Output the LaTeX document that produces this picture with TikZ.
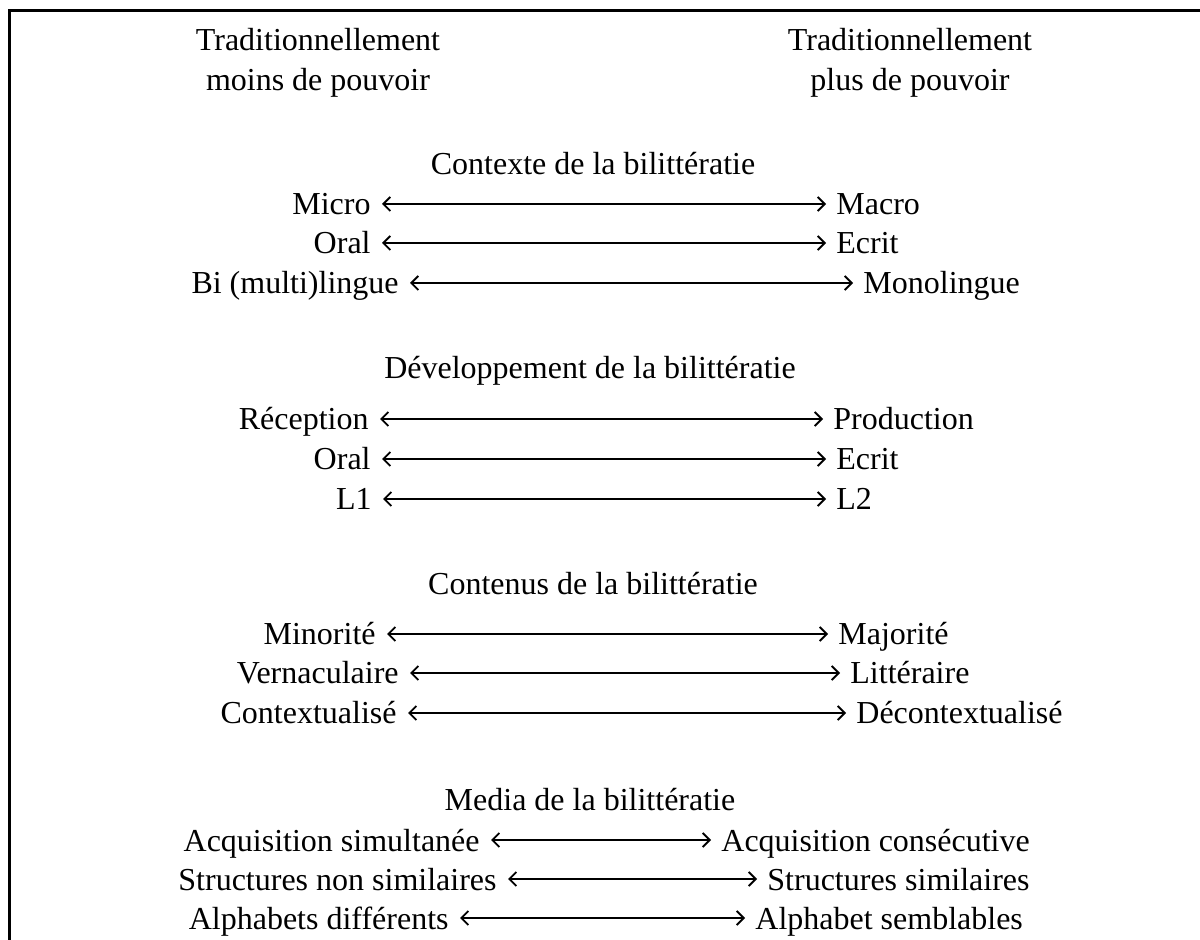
\documentclass[tikz,border=0pt]{standalone}
\usepackage{fontspec}
\setmainfont{Liberation Serif}
\usetikzlibrary{arrows.meta}
\newcommand\biliRow[6]{%
  \node[lbl, anchor=base east] (#6l) at (#2-11,#1+11) {#4};
  \node[lbl, anchor=base west] (#6r) at (#3+10,#1+11) {#5};
  \draw[bar] ([shift={(11,-11)}]#6l.base east) -- ([shift={(-10,-11)}]#6r.base west);
  \draw[ticks] ([shift={(24,-11)}]#6l.base east) -- ([shift={(-22,-11)}]#6r.base west);
}
\begin{document}
\begin{tikzpicture}[x=0.5pt,y=-0.5pt,
  lbl/.style={font=\fontsize{16}{19}\selectfont, inner sep=0pt},
  bar/.style={line width=0.9pt, {Straight Barb[length=3.5pt,width=7pt]}-{Straight Barb[length=3.5pt,width=7pt]}},
  ticks/.style={line width=1.35pt, dash pattern=on 1.5pt off 12.5pt}]
\useasboundingbox (0,0) rectangle (1200,940);
\draw[line width=1.4pt] (9.5,940) -- (9.5,10.5) -- (1200,10.5);
% headers
\node[lbl, anchor=base] (hl1) at (318,51) {Traditionnellement};
\node[lbl, anchor=base] (hl2) at (318,91) {moins de pouvoir};
\node[lbl, anchor=base] (hr1) at (910,51) {Traditionnellement};
\node[lbl, anchor=base] (hr2) at (910,91) {plus de pouvoir};
% Contexte
\node[lbl, anchor=base] (t1) at (593,175) {Contexte de la bilittératie};
\biliRow{204}{382}{826}{Micro}{Macro}{a1}
\biliRow{243}{382}{826}{Oral}{Ecrit}{a2}
\biliRow{283}{410}{853}{Bi (multi)lingue}{Monolingue}{a3}
% Developpement
\node[lbl, anchor=base] (t2) at (590,379) {Développement de la bilittératie};
\biliRow{419}{380}{823}{Réception}{Production}{b1}
\biliRow{459}{382}{826}{Oral}{Ecrit}{b2}
\biliRow{499}{383}{826}{L1}{L2}{b3}
% Contenus
\node[lbl, anchor=base] (t3) at (593,595) {Contenus de la bilittératie};
\biliRow{634}{387}{828}{Minorité}{Majorité}{c1}
\biliRow{673}{410}{840}{Vernaculaire}{Littéraire}{c2}
\biliRow{713}{408}{846}{Contextualisé}{Décontextualisé}{c3}
% Media
\node[lbl, anchor=base] (t4) at (590,811) {Media de la bilittératie};
\biliRow{840}{491}{711}{Acquisition simultanée}{Acquisition consécutive}{d1}
\biliRow{879}{508}{757}{Structures non similaires}{Structures similaires}{d2}
\biliRow{918}{460}{745}{Alphabets différents}{Alphabet semblables}{d3}
\end{tikzpicture}
\end{document}
